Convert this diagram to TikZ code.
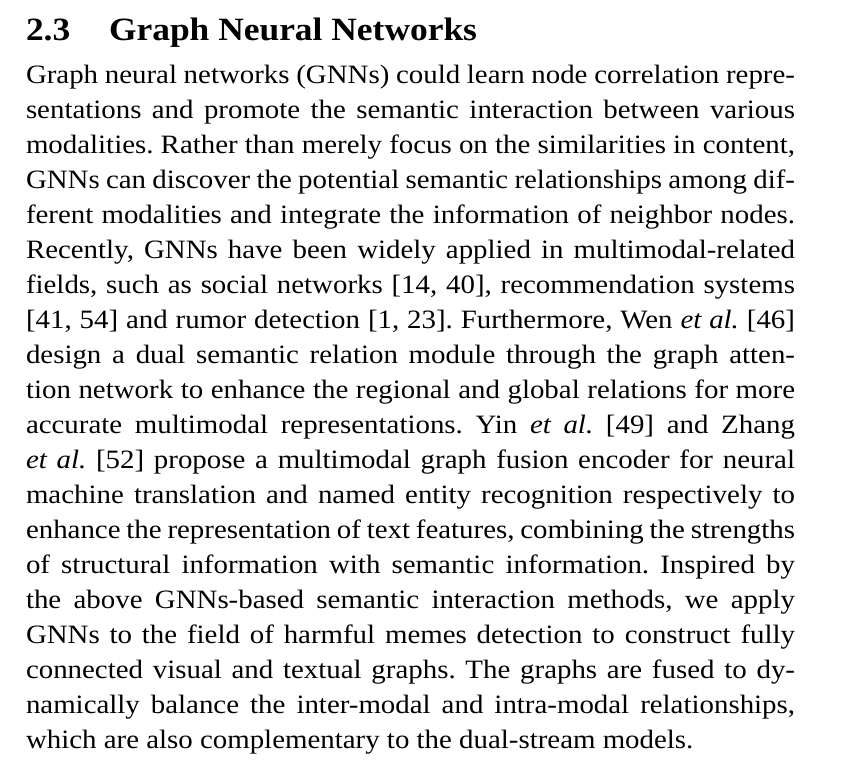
\documentclass[tikz,border=0pt]{standalone}
\usepackage{fontspec}
\setmainfont{Liberation Serif}[FakeStretch=1.09]
\frenchspacing
\begin{document}
\begin{tikzpicture}[x=1pt,y=-1pt,
  bodyline/.style={anchor=base west,inner sep=0pt,outer sep=0pt,font=\fontsize{26.5}{35}\selectfont},
  headtext/.style={anchor=base west,inner sep=0pt,outer sep=0pt,font=\fontsize{32.5}{37}\selectfont\bfseries}]
\useasboundingbox[fill=white] (0,0) rectangle (848,777);
\newcommand{\jl}[1]{\makebox[769pt][s]{#1}}
\node[headtext] (hnum) at (26,40) {2.3};
\node[headtext] (htitle) at (109,40) {Graph Neural Networks};
\node[bodyline] (l1) at (26,83) {\jl{Graph neural networks (GNNs) could learn node correlation repre-}};
\node[bodyline] (l2) at (26,118.05) {\jl{sentations and promote the semantic interaction between various}};
\node[bodyline] (l3) at (26,153.1) {\jl{modalities. Rather than merely focus on the similarities in content,}};
\node[bodyline] (l4) at (26,188.15) {\jl{GNNs can discover the potential semantic relationships among dif-}};
\node[bodyline] (l5) at (26,223.2) {\jl{ferent modalities and integrate the information of neighbor nodes.}};
\node[bodyline] (l6) at (26,258.25) {\jl{Recently, GNNs have been widely applied in multimodal-related}};
\node[bodyline] (l7) at (26,293.3) {\jl{fields, such as social networks [14, 40], recommendation systems}};
\node[bodyline] (l8) at (26,328.35) {\jl{[41, 54] and rumor detection [1, 23]. Furthermore, Wen \textit{et al.} [46]}};
\node[bodyline] (l9) at (26,363.4) {\jl{design a dual semantic relation module through the graph atten-}};
\node[bodyline] (l10) at (26,398.45) {\jl{tion network to enhance the regional and global relations for more}};
\node[bodyline] (l11) at (26,433.5) {\jl{accurate multimodal representations. Yin \textit{et al.} [49] and Zhang}};
\node[bodyline] (l12) at (26,468.55) {\jl{\textit{et al.} [52] propose a multimodal graph fusion encoder for neural}};
\node[bodyline] (l13) at (26,503.6) {\jl{machine translation and named entity recognition respectively to}};
\node[bodyline] (l14) at (26,538.65) {\jl{enhance the representation of text features, combining the strengths}};
\node[bodyline] (l15) at (26,573.7) {\jl{of structural information with semantic information. Inspired by}};
\node[bodyline] (l16) at (26,608.75) {\jl{the above GNNs-based semantic interaction methods, we apply}};
\node[bodyline] (l17) at (26,643.8) {\jl{GNNs to the field of harmful memes detection to construct fully}};
\node[bodyline] (l18) at (26,678.85) {\jl{connected visual and textual graphs. The graphs are fused to dy-}};
\node[bodyline] (l19) at (26,713.9) {\jl{namically balance the inter-modal and intra-modal relationships,}};
\node[bodyline] (l20) at (26,748.95) {which are also complementary to the dual-stream models.};
\end{tikzpicture}
\end{document}
